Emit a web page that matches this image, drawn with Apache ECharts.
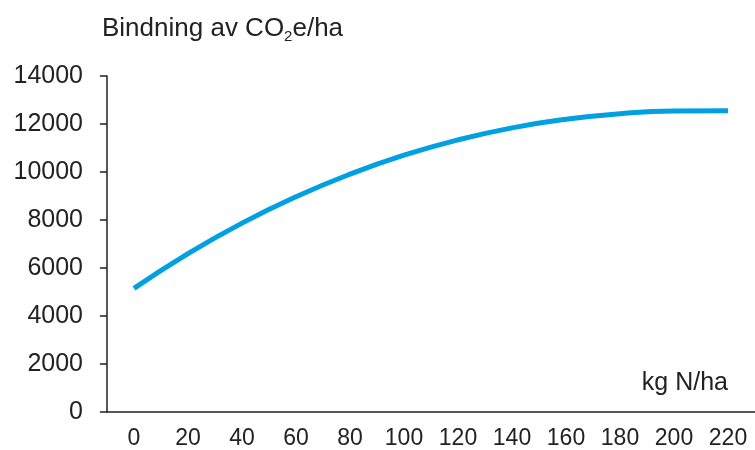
<!DOCTYPE html>
<html>
<head>
<meta charset="utf-8">
<script src="https://cdn.jsdelivr.net/npm/echarts@6/dist/echarts.min.js"></script>
<style>
  body { margin: 0; background: #fff; }
  #myChart { width: 755px; height: 450px; }
</style>
</head>
<body>
<div id="myChart"></div>
<script>
// kg N/ha
var nLevels = ['0', '20', '40', '60', '80', '100', '120', '140', '160', '180', '200', '220'];
// Bindning av CO2e/ha
var binding = [5150, 6600, 7870, 8970, 9910, 10700, 11340, 11840, 12200, 12430, 12540, 12550];

var fontName = 'Liberation Sans, Arial, sans-serif';
var myChart = echarts.init(document.getElementById('myChart'));

var option = {
  animation: false,
  title: [{
    left: 97,
    top: 8,
    text: '{a|Bindning av CO}{s|2}{a|e/ha}',
    textStyle: {
      rich: {
        a: { fontSize: 26, fontWeight: 'normal', color: '#222', fontFamily: fontName },
        s: { fontSize: 15, fontWeight: 'normal', color: '#222', fontFamily: fontName, padding: [16, 0, 0, 0] }
      }
    }
  }, {
    right: 22,
    top: 366,
    text: 'kg N/ha',
    textStyle: { fontSize: 25, fontWeight: 'normal', color: '#222', fontFamily: fontName }
  }],
  grid: {
    left: 107,
    right: 0,
    top: 76,
    bottom: 38
  },
  xAxis: {
    type: 'category',
    data: nLevels,
    boundaryGap: true,
    axisLine: { lineStyle: { color: '#222', width: 1.5 } },
    axisTick: { length: 7, lineStyle: { color: '#222', width: 1.5 } },
    axisLabel: { fontSize: 23, color: '#222', fontFamily: fontName, margin: 15 }
  },
  yAxis: {
    type: 'value',
    min: 0,
    max: 14000,
    interval: 2000,
    splitLine: { show: false },
    axisLine: { show: true, lineStyle: { color: '#222', width: 1.5 } },
    axisTick: { show: true, length: 7, lineStyle: { color: '#222', width: 1.5 } },
    axisLabel: {
      fontSize: 25, color: '#222', fontFamily: fontName, margin: 24,
      formatter: function (v) { return String(v); }
    }
  },
  series: [{
    type: 'line',
    data: binding,
    smooth: true,
    showSymbol: false,
    lineStyle: { color: '#00a0e3', width: 5 }
  }]
};
myChart.setOption(option);
</script>
</body>
</html>
